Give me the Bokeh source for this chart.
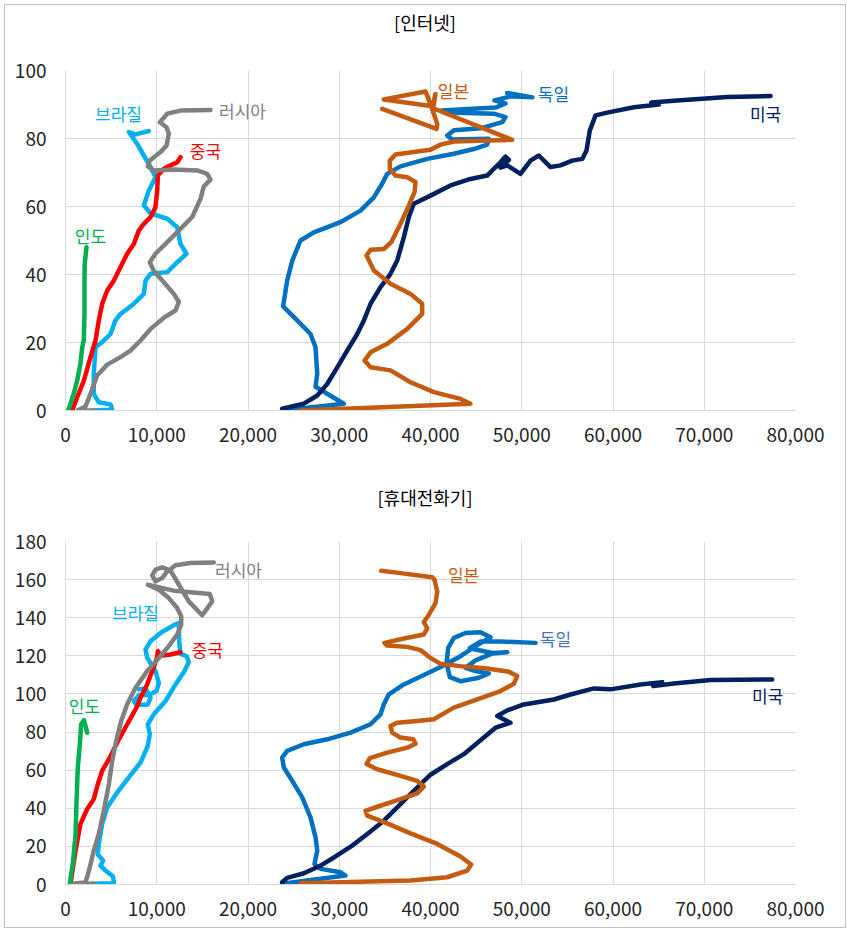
from bokeh.plotting import figure
from bokeh.layouts import column
from bokeh.models import Range1d, FixedTicker, NumeralTickFormatter, Label, Div
from bokeh.embed import file_html
from bokeh.resources import INLINE

# ---------------- data: [인터넷] (x = 1인당 GDP, y = 보급률) ----------------
inet_ind_x = [300, 470, 910, 1280, 1640, 1830, 2000, 2080, 2080, 2100, 2300]
inet_ind_y = [0, 1.5, 5, 8.8, 13.8, 18.5, 20.6, 28.5, 38, 43, 48]
inet_chn_x = [730, 1280, 2010, 2740, 3290, 3650, 4020, 4570, 5300, 6030, 6760, 7490, 8030, 8580,
              9320, 9860, 10050, 10120, 10780, 11510, 12240, 12600]
inet_chn_y = [0, 3.9, 8.8, 15.7, 20.6, 26.5, 31.4, 35.3, 38.2, 42.2, 46.1, 49, 52.9, 54.9,
              56.9, 59.8, 64.7, 69.1, 71.1, 72.1, 73, 74.5]
inet_bra_x = [2920, 5120, 4930, 3650, 3100, 3100, 3290, 4020, 4930, 5480, 6030, 7490, 8580, 8770,
              9320, 11150, 12240, 13260, 12600, 12240, 11150, 9320, 8580, 9130, 9860, 9320, 8580,
              7860, 6940, 7670, 9130]
inet_bra_y = [0, 0.2, 1.8, 2.4, 4.9, 10.8, 18.6, 20.1, 22.5, 26.5, 28.4, 31.4, 34.3, 38.2,
              40.2, 40.7, 43.6, 46.1, 49, 53.9, 56.4, 58, 60.3, 64.7, 68.6, 71.6, 75,
              78.4, 81.9, 81.2, 82.2]
inet_rus_x = [3100, 1300, 2190, 2740, 3470, 4570, 6030, 7120, 8220, 9320, 10780, 12060, 12420,
              11870, 10780, 9680, 9240, 9860, 11150, 12600, 13890, 14800, 15160, 15890, 15530,
              14430, 11870, 9680, 9020, 9240, 10410, 11070, 11320, 11070, 10340, 11150, 12600, 15890]
inet_rus_y = [0, 0, 1.2, 4.9, 10.3, 13.5, 15.7, 17.6, 20.6, 24, 27.3, 29.4, 31.9,
              34.3, 37.7, 41, 43.6, 46.1, 49.5, 53.4, 56.9, 62.3, 65.9, 67.9, 69.6,
              70.6, 70.9, 70.6, 71.8, 73.5, 76, 77.9, 81.4, 83.3, 84.8, 87.3, 88.2, 88.4]
inet_jpn_x = [25750, 44380, 43290, 40370, 37810, 35620, 33430, 32770, 33430, 35250, 37450, 39090,
              39090, 37810, 35620, 33790, 32990, 33430, 34890, 35700, 36710, 37630, 38250, 38360,
              37450, 36160, 35540, 35540, 36160, 38170, 40000, 41100, 42560, 46210, 48950, 40290,
              40550, 40220, 34880, 39460, 40190, 40740, 40660, 34700]
inet_jpn_y = [0, 2, 3.4, 5.4, 8.3, 11.8, 12.7, 14.7, 17.1, 19.6, 24, 28.4,
              31.4, 34.3, 37.3, 41.2, 45.6, 47.3, 47.5, 49.5, 54.9, 60.3, 64.2, 67.2,
              68.6, 69.1, 71.1, 73.5, 75.3, 76, 76.7, 78.2, 79.1, 79.4, 79.6, 88.9,
              93.1, 89.5, 91.5, 93.8, 88.7, 84.3, 82.8, 88.7]
inet_deu_x = [23740, 30500, 27400, 27590, 27400, 26850, 25390, 23850, 24290, 24850, 25750, 27210,
              30140, 32330, 33790, 34700, 35250, 36710, 39640, 42560, 44750, 46210, 46390, 42370,
              41830, 42560, 45480, 47860, 48220, 46940, 42920, 41200, 47120, 48220, 47010, 48770,
              51170, 48400]
inet_deu_y = [0, 2, 7, 10.8, 18.6, 22.5, 26.5, 30.6, 38.2, 44.1, 50, 52.4,
              55.4, 58.8, 62.7, 66.7, 69.6, 71.8, 74, 75.5, 76.9, 78.2, 79.9, 79.7,
              80.9, 82.4, 83, 84.8, 86.3, 87.3, 87.6, 88.2, 89.1, 90.3, 91.2, 92.4,
              92.1, 93.4]
inet_usa_x = [23740, 26120, 27590, 28680, 29780, 30870, 31970, 32700, 33430, 34520, 35620, 36350,
              37080, 37630, 38170, 40000, 42190, 44380, 46210, 46940, 47670, 48220, 48590, 47670,
              48400, 49860, 50960, 51870, 53150, 54250, 55530, 56630, 57100, 57460, 58090, 59370,
              62290, 65030, 64190, 67040, 72520, 77270]
inet_usa_y = [0.5, 2, 4.4, 7.8, 12.7, 17.6, 22.5, 26.5, 31.4, 36.3, 40.2, 44.1,
              51, 56.9, 60.8, 63.2, 66.2, 68.1, 69.1, 71.1, 73, 74.7, 73.7, 71.4,
              72.1, 69.6, 73.5, 75, 71.6, 72.1, 73.5, 74, 76.5, 82.4, 86.8, 87.6,
              89.2, 90, 90.6, 91.2, 92.2, 92.5]

# ---------------- data: [휴대전화기] ----------------
mob_ind_x = [470, 840, 1100, 1210, 1350, 1570, 1720, 2010, 2190, 2380]
mob_ind_y = [0.4, 12.6, 26.5, 44, 61.4, 73.6, 84.1, 86.2, 83.2, 79.7]
mob_chn_x = [550, 1100, 1640, 2380, 3100, 3540, 4020, 4860, 5670, 6760, 7780, 8220, 8950, 9500,
             10050, 10120, 10410, 11510, 12600]
mob_chn_y = [0.4, 17.8, 31.8, 39.6, 44.8, 52.6, 59.7, 66.6, 74.5, 84.1, 92.8, 98, 105, 112,
             119.3, 122.4, 120.1, 120.7, 121.9]
mob_bra_x = [2920, 5300, 5220, 4380, 3840, 4130, 3540, 3650, 4020, 4570, 5670, 6940, 8220, 9020,
             9240, 9020, 9680, 10960, 12060, 13040, 13510, 13260, 12600, 12460, 12420, 11870,
             10410, 9320, 8770, 8950, 9860, 10230, 9970, 9130, 8040, 7490, 7780, 9020, 9320,
             8770, 8040]
mob_bra_y = [0.4, 0.7, 4.2, 7.3, 9.9, 12.6, 15.7, 21.3, 31.8, 40.4, 48.3, 56.2, 64, 72.7,
             78.9, 84.1, 89.3, 96.3, 105, 112, 116.8, 119.8, 121, 127.7, 137.2, 136.1,
             132, 127.7, 123.3, 119, 112, 105.8, 101.5, 99.4, 99.4, 96.3, 94.2, 94.5, 98,
             102.9, 102.4]
mob_rus_x = [3100, 550, 2190, 2670, 3100, 3650, 4200, 4750, 5120, 5560, 6100, 6760, 7670, 8950,
             10230, 11320, 12240, 12680, 12680, 12240, 11320, 10230, 9020, 11870, 15820, 16080,
             14980, 13510, 12170, 11510, 10600, 9860, 9500, 9860, 10600, 11070, 12060, 13700, 16250]
mob_rus_y = [0.4, 0.4, 1, 9.1, 17.8, 26.5, 38.7, 52.7, 64.9, 75.4, 85.8, 94.6, 103.2, 112,
             118.9, 125.1, 131.2, 136.4, 140.8, 145.1, 150.3, 154.7, 157.3, 154.2, 152.4, 148.6,
             141.3, 148.6, 159.4, 164.7, 166.4, 165.2, 162.2, 159.1, 160.8, 163.9, 167.5, 168.7, 169]
mob_jpn_x = [25750, 37810, 41830, 44020, 44460, 43290, 40740, 37810, 35250, 33070, 32880, 34160,
             36710, 38540, 39270, 38540, 36710, 34160, 32990, 33350, 35250, 37450, 38360, 38110,
             36710, 35800, 35620, 36350, 38540, 40370, 41280, 42560, 45120, 47670, 49130, 49500,
             48590, 46210, 43290, 41100, 40000, 38910, 37450, 35250, 34960, 37080, 39270, 39640,
             39270, 39820, 40550, 40740, 40440, 40190, 36710, 34600]
mob_jpn_y = [0.7, 2.1, 3.8, 7.3, 10.5, 14.7, 21.3, 26.8, 32.1, 36.1, 38.7, 40.8,
             44.8, 47.8, 51.3, 54.4, 57, 60.5, 63.2, 66.3, 69.2, 71.8, 73.9, 76.2,
             77.1, 79.7, 83.2, 84.9, 85.8, 86.7, 89.3, 92.8, 97.2, 101.5, 105.3, 109.4,
             111.6, 113.4, 114.6, 115.8, 118.9, 123, 124.7, 125.4, 126.8, 129.1, 131.2, 134.3,
             137.8, 141.6, 147.7, 153.8, 159.9, 161.2, 163.4, 164.6]
mob_deu_x = [23740, 30690, 30140, 27950, 27290, 27590, 27400, 26850, 25940, 24850, 23930, 23740,
             24290, 26120, 28680, 31240, 33430, 34520, 34890, 35430, 37080, 39270, 41100, 43290,
             45120, 46580, 45480, 43840, 42560, 41940, 41760, 42120, 43290, 45300, 46390, 44930,
             43840, 44930, 46760, 48410, 46760, 44300, 45500, 47670, 51510]
mob_deu_y = [0.4, 4.7, 6.4, 8.2, 10.8, 17.8, 24.8, 35.2, 45.7, 54.4, 61.4, 66.6,
             70.1, 73.6, 76.2, 79.7, 84.1, 89.3, 94.6, 99.8, 105, 109.9, 114.1, 119.8,
             125.6, 129.8, 132.4, 132, 129.4, 124.2, 116.3, 108.8, 106.7, 108.5, 110.8, 112,
             113.7, 117.6, 121.2, 121.9, 121.5, 124, 127.5, 127.5, 126.8]
mob_usa_x = [23740, 24290, 26120, 27950, 29590, 31420, 33070, 34890, 36710, 38170, 40000, 41830,
             43650, 45480, 47130, 48770, 47310, 48410, 50230, 53520, 55350, 57900, 59730, 63020,
             65400, 64410, 66670, 70690, 77450]
mob_usa_y = [1.2, 3.5, 5.9, 9.9, 14.7, 20.4, 26.5, 33.5, 42.2, 49.2, 57.6, 63.2,
             68.4, 75.7, 82.3, 84.9, 88.4, 91.4, 94.5, 97.1, 99.7, 102.9, 102.4, 105,
             106.2, 104.1, 105.5, 107.3, 107.6]

x_ticks = [0, 10000, 20000, 30000, 40000, 50000, 60000, 70000, 80000]
inet_y_ticks = [0, 20, 40, 60, 80, 100]
mob_y_ticks = [0, 20, 40, 60, 80, 100, 120, 140, 160, 180]

FONT = "Noto Sans CJK KR"
C_IND, C_CHN, C_BRA, C_RUS = "#00B050", "#FF0000", "#00B0F0", "#808080"
C_JPN, C_DEU, C_USA = "#C55A11", "#0070C0", "#002060"


def title_div(text, height):
    return Div(text=text, width=840, height=height,
               styles={"text-align": "center", "font-family": FONT, "font-size": "18px",
                       "line-height": f"{height}px", "color": "#000000",
                       "background-color": "white", "margin": "0", "padding": "0"})


def make_fig(ymax, yticks, height, b_top, b_bottom):
    p = figure(width=840, height=height, x_range=Range1d(0, 80000), y_range=Range1d(0, ymax),
               output_backend="svg", toolbar_location=None,
               min_border_left=60, min_border_right=50, min_border_top=b_top,
               min_border_bottom=b_bottom)
    p.outline_line_color = None
    p.background_fill_color = "white"
    p.border_fill_color = "white"
    p.xaxis.ticker = FixedTicker(ticks=x_ticks)
    p.yaxis.ticker = FixedTicker(ticks=yticks)
    p.xaxis.formatter = NumeralTickFormatter(format="0,0")
    for ax in (p.xaxis, p.yaxis):
        ax.axis_line_color = "#D9D9D9"
        ax.major_tick_line_color = None
        ax.minor_tick_line_color = None
        ax.major_label_text_font = FONT
        ax.major_label_text_font_size = "19px"
        ax.major_label_text_color = "#262626"
    p.xaxis.major_label_standoff = 11
    p.yaxis.major_label_standoff = 13
    p.xgrid.grid_line_color = "#D9D9D9"
    p.ygrid.grid_line_color = "#D9D9D9"
    return p


def draw(p, xs, ys, color):
    p.line(xs, ys, line_color=color, line_width=4.5, line_join="round", line_cap="round")


def label(p, x, y, text, color):
    p.add_layout(Label(x=x, y=y, text=text, text_color=color, text_font=FONT,
                       text_font_size="17px", text_align="center", text_baseline="middle"))


t1 = title_div("[인터넷]", 34)
p1 = make_fig(100, inet_y_ticks, 437, 31, 66)
draw(p1, inet_deu_x, inet_deu_y, C_DEU)
draw(p1, inet_usa_x, inet_usa_y, C_USA)
draw(p1, inet_jpn_x, inet_jpn_y, C_JPN)
draw(p1, inet_bra_x, inet_bra_y, C_BRA)
draw(p1, inet_chn_x, inet_chn_y, C_CHN)
draw(p1, inet_rus_x, inet_rus_y, C_RUS)
draw(p1, inet_ind_x, inet_ind_y, C_IND)
label(p1, 2740, 51.5, "인도", C_IND)
label(p1, 15340, 76.5, "중국", C_CHN)
label(p1, 5810, 87.4, "브라질", C_BRA)
label(p1, 19400, 88.2, "러시아", C_RUS)
label(p1, 42520, 94.1, "일본", C_JPN)
label(p1, 53480, 93.2, "독일", C_DEU)
label(p1, 76720, 87.4, "미국", C_USA)

t2 = title_div("[휴대전화기]", 42)
p2 = make_fig(180, mob_y_ticks, 409, 23, 43)
draw(p2, mob_deu_x, mob_deu_y, C_DEU)
draw(p2, mob_usa_x, mob_usa_y, C_USA)
draw(p2, mob_jpn_x, mob_jpn_y, C_JPN)
draw(p2, mob_bra_x, mob_bra_y, C_BRA)
draw(p2, mob_chn_x, mob_chn_y, C_CHN)
draw(p2, mob_rus_x, mob_rus_y, C_RUS)
draw(p2, mob_ind_x, mob_ind_y, C_IND)
label(p2, 18960, 165.4, "러시아", C_RUS)
label(p2, 43620, 162.7, "일본", C_JPN)
label(p2, 7670, 142.9, "브라질", C_BRA)
label(p2, 53700, 129.3, "독일", "#4472C4")
label(p2, 15560, 123.5, "중국", C_CHN)
label(p2, 2080, 93.7, "인도", C_IND)
label(p2, 76940, 99.4, "미국", C_USA)

layout = column(t1, p1, t2, p2, spacing=0,
                styles={"margin": "4px", "border": "1px solid #BFBFBF",
                        "background-color": "white"})
open("out.html", "w").write(file_html(layout, INLINE))
